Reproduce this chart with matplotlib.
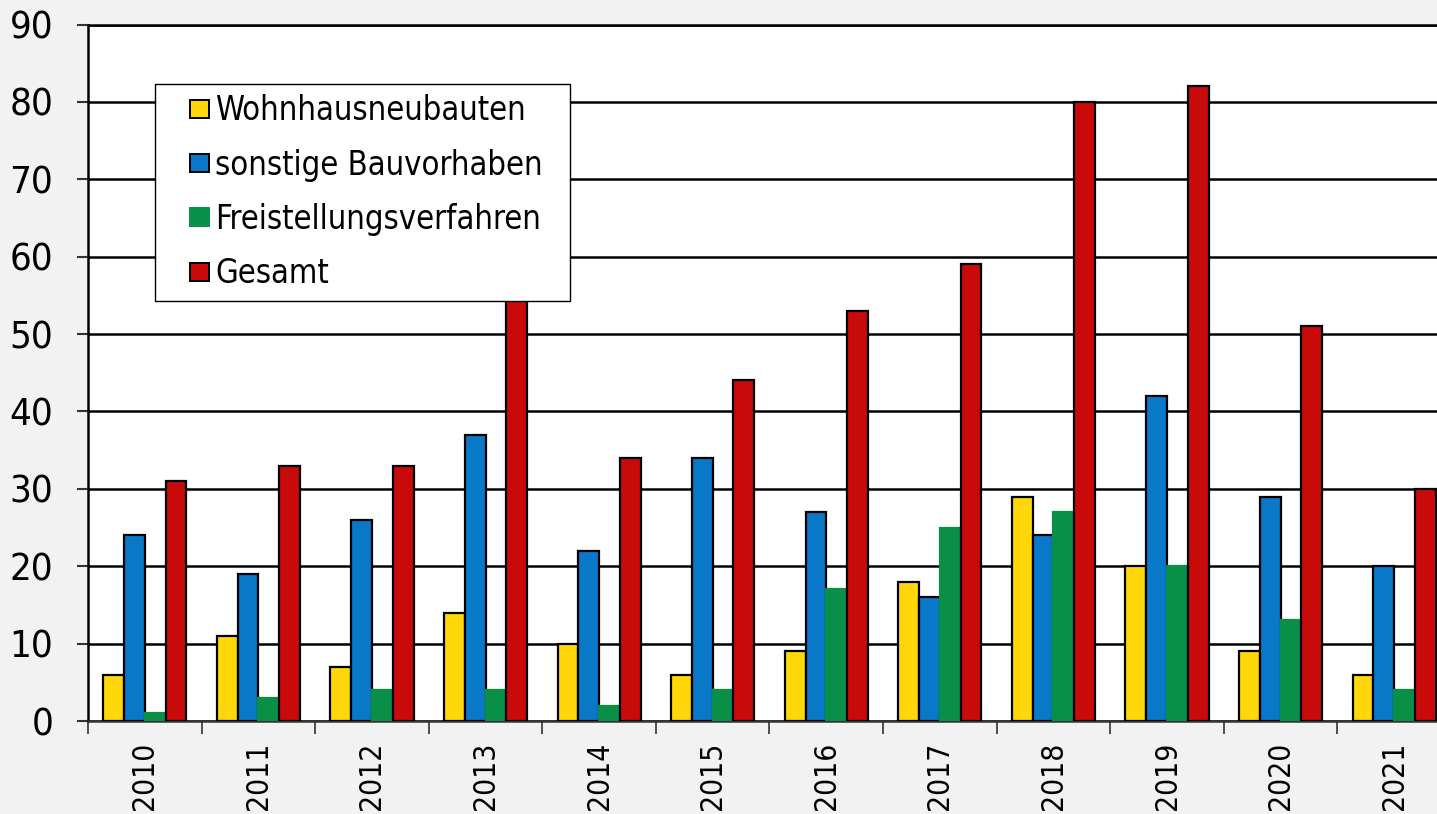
import matplotlib
matplotlib.use("Agg")
import matplotlib.pyplot as plt
import numpy as np
from matplotlib.patches import Patch, Rectangle
from matplotlib.legend_handler import HandlerPatch

years = ["2010", "2011", "2012", "2013", "2014", "2015", "2016", "2017", "2018", "2019", "2020", "2021"]
wohnhaus = [6, 11, 7, 14, 10, 6, 9, 18, 29, 20, 9, 6]
sonstige = [24, 19, 26, 37, 22, 34, 27, 16, 24, 42, 29, 20]
freistellung = [1, 3, 4, 4, 2, 4, 17, 25, 27, 20, 13, 4]
gesamt = [31, 33, 33, 55, 34, 44, 53, 59, 80, 82, 51, 30]

series = [
    ("Wohnhausneubauten", wohnhaus, "#FFD70A", "black"),
    ("sonstige Bauvorhaben", sonstige, "#0A78C8", "black"),
    ("Freistellungsverfahren", freistellung, "#0A8F46", "#0A8F46"),
    ("Gesamt", gesamt, "#C80A0A", "black"),
]

plt.rcParams['font.family'] = ['DejaVu Sans']
plt.rcParams['font.stretch'] = 'condensed'

fig = plt.figure(figsize=(14.37, 8.14), dpi=100, facecolor="#F2F2F2")
AX_W, AX_H = 1363, 696.5
ax = fig.add_axes([88/1437, 93/814, AX_W/1437, AX_H/814])
ax.set_facecolor("white")

x = np.arange(len(years))
w = 0.183
for i, (name, vals, col, ec) in enumerate(series):
    ax.bar(x + (i - 1.5) * w, vals, width=w, color=col, edgecolor=ec, linewidth=1.6, zorder=3)

ax.set_xlim(-0.5, len(years) - 0.5)
ax.set_ylim(0, 90)
ax.set_yticks(np.arange(0, 91, 10))
ax.yaxis.grid(True, color="black", linewidth=1.8, zorder=1)
ax.set_axisbelow(True)

ax.set_xticks(x)
ax.set_xticklabels(years, rotation=90, fontsize=21.5)
ax.tick_params(axis='x', length=0, pad=15)
ax.set_xticks(np.arange(-0.5, len(years), 1), minor=True)
ax.tick_params(axis='x', which='minor', length=9, width=1.2, color="#333333", direction='out')
ax.tick_params(axis='y', length=8, width=1.5, color="#333333", labelsize=27.5, pad=17, direction='out')

for s in ["left", "top", "right"]:
    ax.spines[s].set_linewidth(1.8)
    ax.spines[s].set_color("black")
ax.spines["bottom"].set_linewidth(1.8)
ax.spines["bottom"].set_color("#333333")

# legend with small square handles placed at the right end of the handle area
SQ = 13.0  # points (~18 px)

def square_patch(legend, orig_handle, xdescent, ydescent, width, height, fontsize):
    return Rectangle((width - SQ - xdescent, (height - SQ) / 2 - ydescent), SQ, SQ)

handles = [Patch(facecolor=col, edgecolor=ec, linewidth=1.4) for _, _, col, ec in series]
fs = 23.5
leg = ax.legend(handles, [s[0] for s in series], loc="upper left",
                bbox_to_anchor=(67/AX_W, (721-300)/AX_H, 415/AX_W, 216/AX_H), mode="expand",
                fontsize=fs, frameon=True, fancybox=False,
                framealpha=1, edgecolor="black", handlelength=1.32, handleheight=0.6,
                handletextpad=0.21, labelspacing=0.65, borderpad=0.32, borderaxespad=0,
                handler_map={Patch: HandlerPatch(patch_func=square_patch)})
leg.get_frame().set_linewidth(1.0)
leg.set_zorder(5)

fig.savefig("out.png", dpi=100, facecolor=fig.get_facecolor())
